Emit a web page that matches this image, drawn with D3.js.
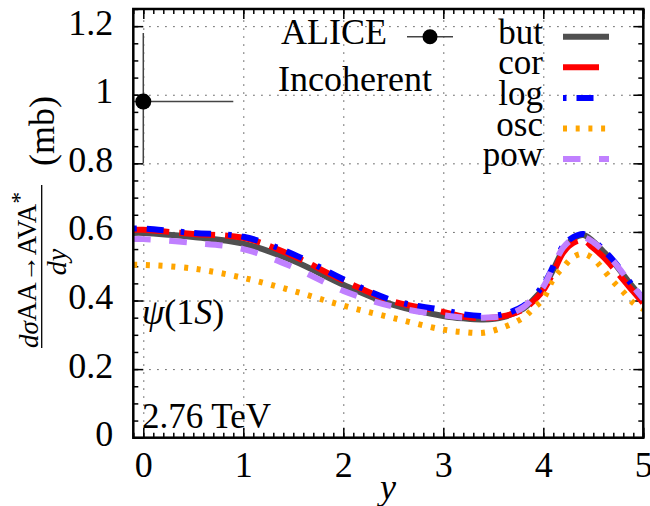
<!DOCTYPE html>
<html>
<head>
<meta charset="utf-8">
<script src="https://cdn.jsdelivr.net/npm/d3@7"></script>
<style>
  body { margin: 0; background: #fff; }
  text { font-family: "Liberation Serif", "DejaVu Serif", serif; fill: #000; }
</style>
</head>
<body>
<div class="chart"></div>
<script>
// rapidity grid shared by all model curves
var rapidity = [-0.1, 0, 0.5, 1, 1.5, 2, 2.5, 3, 3.2, 3.4, 3.6, 3.8, 3.9, 4.0, 4.1, 4.2, 4.3, 4.4, 4.5, 4.6, 4.7, 4.8, 4.9, 5.0];

var butValues = [0.597, 0.597, 0.585, 0.566, 0.516, 0.446, 0.387, 0.355, 0.348, 0.345, 0.352, 0.376, 0.403, 0.436, 0.490, 0.548, 0.580, 0.591, 0.572, 0.543, 0.512, 0.475, 0.438, 0.405];
var corValues = [0.606, 0.606, 0.594, 0.583, 0.530, 0.458, 0.397, 0.367, 0.353, 0.348, 0.354, 0.374, 0.398, 0.430, 0.482, 0.540, 0.568, 0.575, 0.553, 0.527, 0.495, 0.460, 0.426, 0.392];
var logValues = [0.610, 0.610, 0.597, 0.586, 0.535, 0.462, 0.400, 0.372, 0.360, 0.355, 0.360, 0.384, 0.410, 0.445, 0.500, 0.560, 0.585, 0.594, 0.575, 0.548, 0.517, 0.480, 0.440, 0.405];
var oscValues = [0.504, 0.504, 0.493, 0.466, 0.428, 0.385, 0.349, 0.315, 0.308, 0.306, 0.322, 0.350, 0.377, 0.405, 0.463, 0.497, 0.527, 0.536, 0.522, 0.490, 0.455, 0.425, 0.393, 0.375];
var powValues = [0.579, 0.579, 0.568, 0.550, 0.497, 0.428, 0.382, 0.357, 0.350, 0.350, 0.355, 0.380, 0.408, 0.440, 0.500, 0.555, 0.580, 0.585, 0.570, 0.545, 0.515, 0.478, 0.440, 0.405];

var seriesNames = ["but", "cor", "log", "osc", "pow"];

// ALICE measurement: y, value, x half-width, value error down/up
var aliceY = [0.0];
var aliceValue = [0.98];
var aliceXErr = [0.9];
var aliceErrLow = [0.18];
var aliceErrHigh = [0.20];

var xTicks = [0, 1, 2, 3, 4, 5];
var yTicks = [0, 0.2, 0.4, 0.6, 0.8, 1, 1.2];

var svgWidth = 650;
var svgHeight = 506;

var margin = {
  top: 9,
  right: 6.7,
  bottom: 68.3,
  left: 133.3
};

var width = svgWidth - margin.left - margin.right;
var height = svgHeight - margin.top - margin.bottom;

var svg = d3
  .select(".chart")
  .append("svg")
  .attr("width", svgWidth)
  .attr("height", svgHeight);

var chartGroup = svg.append("g")
  .attr("transform", `translate(${margin.left}, ${margin.top})`);

var xScale = d3.scaleLinear().domain([-0.1, 5]).range([0, width]);
var yScale = d3.scaleLinear().domain([0, 1.25]).range([height, 0]);

svg.append("defs").append("clipPath")
  .attr("id", "plotClip")
  .append("rect")
  .attr("width", width)
  .attr("height", height);

// dotted grid
var xMinor = d3.range(-1, 51).map(d => d / 10);
var yMinor = d3.range(0, 26).map(d => d / 20);

chartGroup.append("g")
  .attr("class", "grid")
  .attr("transform", `translate(0, ${height})`)
  .call(d3.axisBottom(xScale).tickValues([0, 1, 2, 3, 4]).tickSize(-height).tickFormat(""));

chartGroup.append("g")
  .attr("class", "grid")
  .call(d3.axisLeft(yScale).tickValues([0.2, 0.4, 0.6, 0.8, 1, 1.2]).tickSize(-width).tickFormat(""));

chartGroup.selectAll(".grid line")
  .attr("stroke", "#333")
  .attr("stroke-width", 1)
  .attr("stroke-dasharray", "1.3,6.7");
chartGroup.selectAll(".grid .domain").remove();

// ticks on all four sides, pointing inward
function addTicks(axisFn, scale, values, size, shift, labels) {
  var g = chartGroup.append("g")
    .attr("class", "ticks")
    .attr("transform", shift)
    .call(axisFn(scale).tickValues(values).tickSize(-size).tickFormat(labels || ""));
  g.select(".domain").remove();
  g.selectAll("line").attr("stroke", "#000").attr("stroke-width", 1.5);
  return g;
}

var numFormat = d => String(+d.toFixed(1));

addTicks(d3.axisBottom, xScale, xMinor, 5, `translate(0, ${height})`, null);
addTicks(d3.axisTop, xScale, xMinor, 5, "translate(0, 0)", null);
addTicks(d3.axisLeft, yScale, yMinor, 5, "translate(0, 0)", null);
addTicks(d3.axisRight, yScale, yMinor, 5, `translate(${width}, 0)`, null);

var bottomAxis = addTicks(d3.axisBottom, xScale, xTicks, 10, `translate(0, ${height})`, numFormat);
addTicks(d3.axisTop, xScale, xTicks, 10, "translate(0, 0)", null);
var leftAxis = addTicks(d3.axisLeft, yScale, yTicks, 10, "translate(0, 0)", numFormat);
addTicks(d3.axisRight, yScale, yTicks, 10, `translate(${width}, 0)`, null);

bottomAxis.selectAll("text")
  .attr("y", 39.5)
  .attr("dy", 0)
  .style("font-family", "Liberation Serif")
  .style("font-size", "36px")
  .attr("fill", "#000");

leftAxis.selectAll("text")
  .attr("x", -20)
  .attr("dy", "0.22em")
  .style("font-family", "Liberation Serif")
  .style("font-size", "36px")
  .attr("fill", "#000");

// model curves
var colors = {
  but: "#505050",
  cor: "#ff0000",
  log: "#0000ff",
  osc: "#ffa500",
  pow: "#c080ff"
};
var dashes = {
  but: null,
  cor: "36,10",
  log: "3.5,10,17,17",
  osc: "4,8.7",
  pow: "17.5,18.5"
};
var valuesByName = {
  but: butValues,
  cor: corValues,
  log: logValues,
  osc: oscValues,
  pow: powValues
};

var lineGen = d3.line()
  .x(d => xScale(d[0]))
  .y(d => yScale(d[1]))
  .curve(d3.curveCatmullRom.alpha(0.5));

var curveGroup = chartGroup.append("g").attr("clip-path", "url(#plotClip)");

seriesNames.forEach(function(name) {
  var pts = rapidity.map((r, i) => [r, valuesByName[name][i]]);
  curveGroup.append("path")
    .datum(pts)
    .attr("d", lineGen)
    .attr("fill", "none")
    .attr("stroke", colors[name])
    .attr("stroke-width", 6)
    .attr("stroke-dasharray", dashes[name]);
});

// ALICE point with error bars
var dataGroup = chartGroup.append("g").attr("clip-path", "url(#plotClip)");
aliceY.forEach(function(r, i) {
  dataGroup.append("line")
    .attr("x1", xScale(r - aliceXErr[i]))
    .attr("x2", xScale(r + aliceXErr[i]))
    .attr("y1", yScale(aliceValue[i]))
    .attr("y2", yScale(aliceValue[i]))
    .attr("stroke", "#444")
    .attr("stroke-width", 1.5);
  dataGroup.append("line")
    .attr("x1", xScale(r))
    .attr("x2", xScale(r))
    .attr("y1", yScale(aliceValue[i] - aliceErrLow[i]))
    .attr("y2", yScale(aliceValue[i] + aliceErrHigh[i]))
    .attr("stroke", "#444")
    .attr("stroke-width", 1.5);
});
dataGroup.selectAll("circle")
  .data(aliceY)
  .enter()
  .append("circle")
  .attr("cx", d => xScale(d))
  .attr("cy", (d, i) => yScale(aliceValue[i]))
  .attr("r", 8)
  .attr("fill", "#000");

// frame
chartGroup.append("rect")
  .attr("width", width)
  .attr("height", height)
  .attr("fill", "none")
  .attr("stroke", "#000")
  .attr("stroke-width", 2.5);

// legend
svg.append("text")
  .attr("x", 387)
  .attr("y", 44)
  .attr("text-anchor", "end")
  .style("font-size", "36px")
  .text("ALICE");
svg.append("line")
  .attr("x1", 407).attr("x2", 453)
  .attr("y1", 36.7).attr("y2", 36.7)
  .attr("stroke", "#444")
  .attr("stroke-width", 1.5);
svg.append("circle")
  .attr("cx", 430).attr("cy", 36.7)
  .attr("r", 7.5)
  .attr("fill", "#000");

svg.append("text")
  .attr("x", 355)
  .attr("y", 91)
  .attr("text-anchor", "middle")
  .style("font-size", "36px")
  .text("Incoherent");

var legendRows = svg.selectAll(".legendRow")
  .data(seriesNames)
  .enter()
  .append("g")
  .attr("class", "legendRow")
  .attr("transform", (d, i) => `translate(0, ${36.7 + i * 30.6})`);

legendRows.append("text")
  .attr("x", 543)
  .attr("y", 7)
  .attr("text-anchor", "end")
  .style("font-size", "35px")
  .text(d => d);

legendRows.append("line")
  .attr("x1", 563)
  .attr("x2", 609)
  .attr("y1", 0)
  .attr("y2", 0)
  .attr("stroke", d => colors[d])
  .attr("stroke-width", 6)
  .attr("stroke-dasharray", d => dashes[d]);

// annotations
var psiLabel = svg.append("text")
  .attr("x", 142)
  .attr("y", 324)
  .style("font-size", "36px");
psiLabel.append("tspan").style("font-style", "italic").text("ψ");
psiLabel.append("tspan").text("(1");
psiLabel.append("tspan").style("font-style", "italic").text("S");
psiLabel.append("tspan").text(")");

svg.append("text")
  .attr("x", 142)
  .attr("y", 428)
  .style("font-size", "35px")
  .text("2.76 TeV");

// x axis label
svg.append("text")
  .attr("x", 388)
  .attr("y", 499)
  .attr("text-anchor", "middle")
  .style("font-size", "36px")
  .style("font-style", "italic")
  .text("y");

// y axis label: fraction plus unit, rotated
var yLabel = svg.append("g");

var numer = yLabel.append("text")
  .attr("transform", "translate(38, 348) rotate(-90)")
  .style("font-size", "27px");
numer.append("tspan").style("font-style", "italic").text("dσ");
numer.append("tspan").attr("dy", -2).style("font-size", "27px").text("AA→AVA");
numer.append("tspan").attr("dy", -9).style("font-size", "24px").text("*");

yLabel.append("line")
  .attr("x1", 41.7).attr("x2", 41.7)
  .attr("y1", 185).attr("y2", 348)
  .attr("stroke", "#000")
  .attr("stroke-width", 1.3);

yLabel.append("text")
  .attr("transform", "translate(66, 262) rotate(-90)")
  .attr("text-anchor", "middle")
  .style("font-size", "28px")
  .style("font-style", "italic")
  .text("dy");

yLabel.append("text")
  .attr("transform", "translate(54, 131) rotate(-90)")
  .attr("text-anchor", "middle")
  .style("font-size", "36px")
  .text("(mb)");
</script>
</body>
</html>
